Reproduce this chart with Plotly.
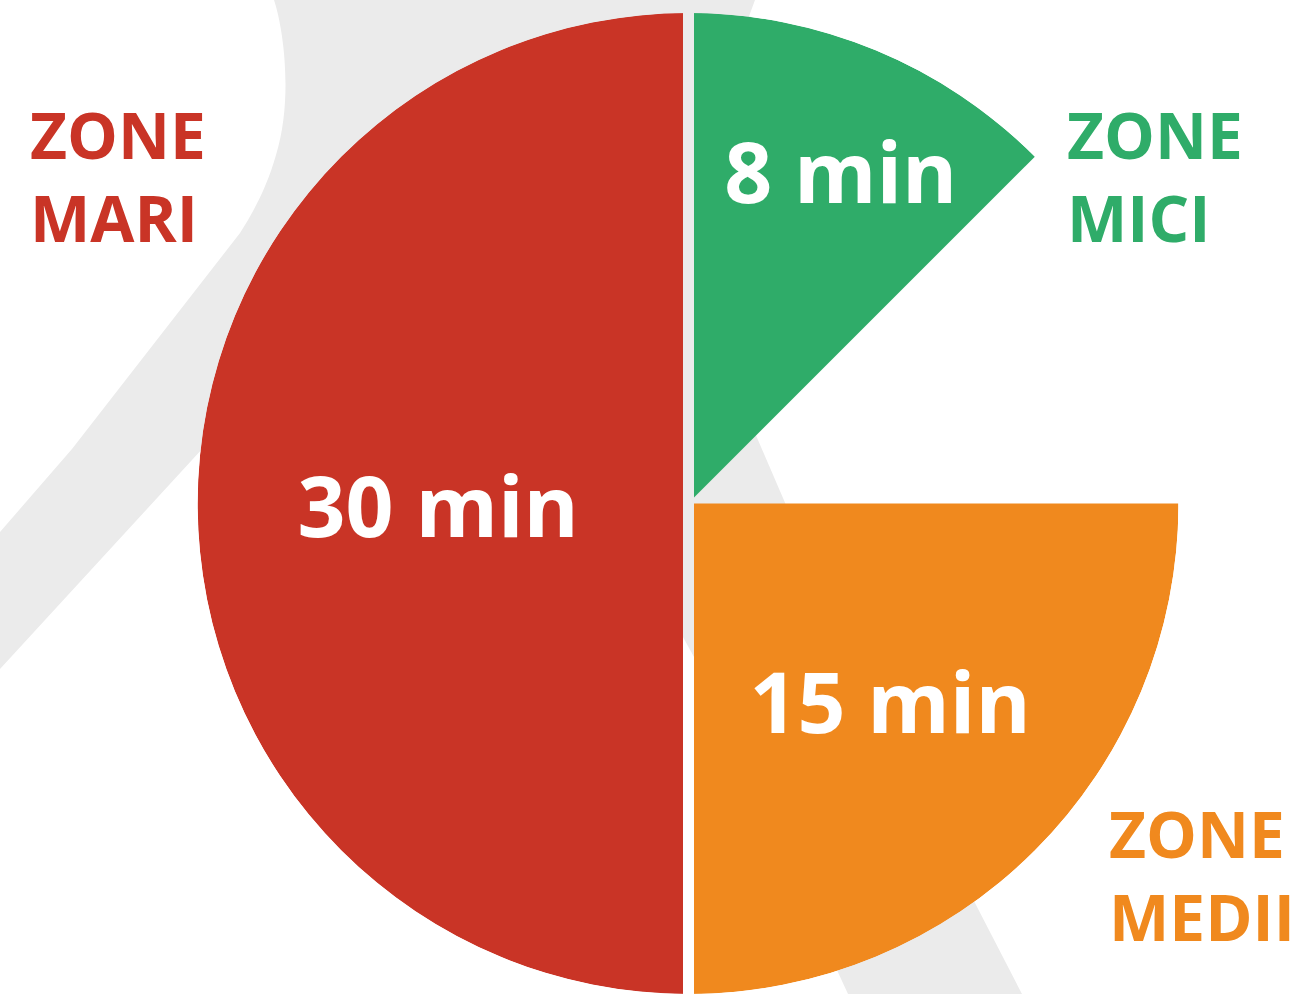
import plotly.graph_objects as go

# ---- data ----
zones = ["ZONE<br>MARI", "ZONE<br>MEDII", "ZONE<br>MICI"]
minutes = [30, 15, 8]              # value labels (minutes)
start_deg = [180, 90, 0]           # wedge start angle (clockwise from 12 o'clock)
span_deg = [180, 90, 45]           # wedge angular span
colors = ["#C93426", "#F0891E", "#2FAC69"]

# label placement (polar r fraction, angle in degrees)
label_r = [0.510, 0.592, 0.726]
label_theta = [267.1, 135.9, 25.4]

W, H = 1300, 994
GRAY = "#EBEBEB"
FONT = "Open Sans"

theta_center = [s + w / 2 for s, w in zip(start_deg, span_deg)]

fig = go.Figure()
fig.add_trace(go.Barpolar(
    r=[1, 1, 1],
    theta=theta_center,
    width=span_deg,
    marker=dict(color=colors, line=dict(width=0)),
    base=0,
    hoverinfo="skip",
    showlegend=False,
))
fig.add_trace(go.Scatterpolar(
    r=label_r,
    theta=label_theta,
    mode="text",
    text=[f"{m} min" for m in minutes],
    textposition="middle center",
    textfont=dict(family=FONT, size=84, color="white", weight=700),
    hoverinfo="skip",
    showlegend=False,
))

def P(pts):
    """pixel coords -> paper-coordinate path string"""
    out = []
    for cmd, coords in pts:
        s = " ".join(f"{x / W:.5f},{1 - y / H:.5f}" for x, y in coords)
        out.append(f"{cmd} {s}")
    return " ".join(out) + " Z"

band = P([
    ("M", [(274, 0)]),
    ("C", [(284, 30), (293, 100), (276, 155)]),
    ("C", [(266, 190), (252, 214), (240, 233)]),
    ("L", [(72, 449)]),
    ("L", [(0, 532)]),
    ("L", [(0, 669)]),
    ("L", [(192, 460)]),
    ("L", [(465, 162)]),
    ("L", [(688, 647)]),
    ("L", [(848, 994)]),
    ("L", [(1022, 994)]),
    ("L", [(975, 903)]),
    ("L", [(786, 505)]),
    ("L", [(758, 440)]),
    ("C", [(693, 290), (698, 150), (755, 0)]),
])

shapes = [
    dict(type="path", path=band, xref="paper", yref="paper",
         fillcolor=GRAY, line=dict(width=0), layer="below"),
    # white separator strip between the halves
    dict(type="rect", xref="paper", yref="paper",
         x0=683 / W, x1=694 / W, y0=0, y1=1,
         fillcolor="white", line=dict(width=0), layer="above"),
    dict(type="path", xref="paper", yref="paper",
         path=P([("M", [(683, 0)]), ("L", [(694, 0)]), ("L", [(694, 657)]), ("L", [(683, 637)])]),
         fillcolor=GRAY, line=dict(width=0), layer="above"),
]

# (x, y, xanchor)
label_pos = [(28, 176, "left"), (1297, 875, "right"), (1065, 176, "left")]
annotations = []
for z, c, (x, y, xa) in zip(zones, colors, label_pos):
    annotations.append(dict(
        text=z, x=x / W, y=1 - y / H, xref="paper", yref="paper",
        xanchor=xa, yanchor="middle", align="left", showarrow=False,
        font=dict(family=FONT, size=64, color=c, weight=700),
    ))

fig.update_layout(
    width=W, height=H,
    margin=dict(l=0, r=0, t=0, b=0),
    paper_bgcolor="white",
    plot_bgcolor="white",
    showlegend=False,
    shapes=shapes,
    annotations=annotations,
    polar=dict(
        domain=dict(x=[196 / W, 1180 / W], y=[0, 1 - 13 / H]),
        bgcolor="rgba(0,0,0,0)",
        bargap=0,
        radialaxis=dict(visible=False, range=[0, 1]),
        angularaxis=dict(visible=False, rotation=90, direction="clockwise"),
    ),
)

fig.write_html(
    "out.html",
    config={"displayModeBar": False},
    post_script="document.body.style.margin='0px';",
)
